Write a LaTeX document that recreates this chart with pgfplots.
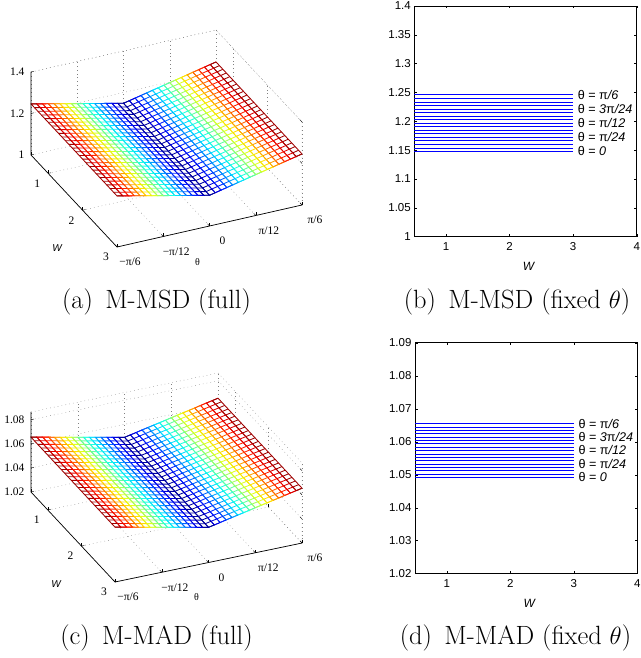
\documentclass[border=0pt]{standalone}
\usepackage{fontspec}
\usepackage{pgfplots}
\usepackage{pgfplotstable}
\pgfplotsset{compat=1.18}
\newfontfamily\helv{Liberation Sans}
\newfontfamily\tms{Liberation Serif}
\pgfplotstableread{
th W z1 z2
-0.5236 0.5 1.2461 1.0655
-0.5236 3 1.2461 1.0655
-0.4909 0.5 1.2399 1.0645
-0.4909 3 1.2399 1.0645
-0.4581 0.5 1.2338 1.0635
-0.4581 3 1.2338 1.0635
-0.4254 0.5 1.2277 1.0625
-0.4254 3 1.2277 1.0625
-0.3927 0.5 1.2216 1.0614
-0.3927 3 1.2216 1.0614
-0.3600 0.5 1.2154 1.0604
-0.3600 3 1.2154 1.0604
-0.3272 0.5 1.2093 1.0594
-0.3272 3 1.2093 1.0594
-0.2945 0.5 1.2032 1.0584
-0.2945 3 1.2032 1.0584
-0.2618 0.5 1.1970 1.0574
-0.2618 3 1.1970 1.0574
-0.2291 0.5 1.1909 1.0563
-0.2291 3 1.1909 1.0563
-0.1963 0.5 1.1848 1.0553
-0.1963 3 1.1848 1.0553
-0.1636 0.5 1.1787 1.0543
-0.1636 3 1.1787 1.0543
-0.1309 0.5 1.1725 1.0533
-0.1309 3 1.1725 1.0533
-0.0982 0.5 1.1664 1.0523
-0.0982 3 1.1664 1.0523
-0.0654 0.5 1.1603 1.0512
-0.0654 3 1.1603 1.0512
-0.0327 0.5 1.1541 1.0502
-0.0327 3 1.1541 1.0502
0 0.5 1.1480 1.0492
0 3 1.1480 1.0492
0.0327 0.5 1.1541 1.0502
0.0327 3 1.1541 1.0502
0.0654 0.5 1.1603 1.0512
0.0654 3 1.1603 1.0512
0.0982 0.5 1.1664 1.0523
0.0982 3 1.1664 1.0523
0.1309 0.5 1.1725 1.0533
0.1309 3 1.1725 1.0533
0.1636 0.5 1.1787 1.0543
0.1636 3 1.1787 1.0543
0.1963 0.5 1.1848 1.0553
0.1963 3 1.1848 1.0553
0.2291 0.5 1.1909 1.0563
0.2291 3 1.1909 1.0563
0.2618 0.5 1.1970 1.0574
0.2618 3 1.1970 1.0574
0.2945 0.5 1.2032 1.0584
0.2945 3 1.2032 1.0584
0.3272 0.5 1.2093 1.0594
0.3272 3 1.2093 1.0594
0.3600 0.5 1.2154 1.0604
0.3600 3 1.2154 1.0604
0.3927 0.5 1.2216 1.0614
0.3927 3 1.2216 1.0614
0.4254 0.5 1.2277 1.0625
0.4254 3 1.2277 1.0625
0.4581 0.5 1.2338 1.0635
0.4581 3 1.2338 1.0635
0.4909 0.5 1.2399 1.0645
0.4909 3 1.2399 1.0645
0.5236 0.5 1.2461 1.0655
0.5236 3 1.2461 1.0655
}\crossdata
\pgfplotsset{
  threed/.style={
    anchor=south west, clip=false,
    xmin=-0.5236, xmax=0.5236, ymin=0.5, ymax=3, y dir=reverse,
    xtick={-0.5236,-0.2618,0,0.2618,0.5236},
    xticklabels={−π/6,−π/12,0,π/12,π/6},
    ytick={1,2,3}, yticklabels={1,2,3},
    grid=major,
    grid style={black!50, line width=0.4pt, dash pattern=on 0.7pt off 3.2pt},
    axis line style={draw=none},
    tick style={black, line width=0.4pt},
    tick pos=left,
    major tick length=3pt,
    tick label style={font=\tms\fontsize{11.5}{13}\selectfont},
    colormap/jet,
    x tick label style={anchor=center, xshift=13pt, yshift=-15pt},
    y tick label style={anchor=center, xshift=-11pt, yshift=-10pt},
    z tick label style={anchor=east, xshift=-3pt},
    xlabel={\tms θ}, ylabel={\helv\itshape W},
  },
  flat/.style={
    anchor=south west, scale only axis, width=222.4pt, height=230.7pt,
    xmin=0.5, xmax=4, xtick={1,2,3,4}, xticklabels={1,2,3,4},
    tick align=inside, major tick length=2.5pt,
    axis line style={black, line width=0.7pt},
    tick style={black, line width=0.4pt},
    tick label style={font=\helv\fontsize{11.5}{13}\selectfont},
    x tick label style={yshift=-2pt},
    xlabel={\helv\itshape W},
    xlabel style={font=\fontsize{12}{13}\selectfont, yshift=-5pt, xshift=3pt},
    clip=false,
  },
}
\newcommand{\thlabel}[2]{\node[anchor=west, inner sep=0pt, font=\helv\fontsize{12.6}{14}\selectfont] at (axis cs:3.07,#1) {#2};}
\begin{document}
\begin{tikzpicture}[x=1pt,y=1pt]
\path[use as bounding box] (0,0) rectangle (640,658);
% (a)
\begin{axis}[threed, at={(31pt,411pt)},
  x={(176.66pt,40.1pt)}, y={(-34.4pt,36.8pt)}, z={(0pt,207.5pt)},
  zmin=1, zmax=1.4, ztick={1,1.2,1.4}, zticklabels={1,1.2,1.4},
  point meta min=1.148, point meta max=1.2461,
  every axis x label/.style={at={(axis cs:0,3,1)}, anchor=center, xshift=-12pt, yshift=-36pt},
  every axis y label/.style={at={(axis cs:-0.5236,1.75,1)}, anchor=center, xshift=-17pt, yshift=-47pt},
]
\addplot3[fill=white, draw=none] coordinates {(-0.5236,0.5,1.2461) (0,0.5,1.148) (0.5236,0.5,1.2461) (0.5236,3,1.2461) (0,3,1.148) (-0.5236,3,1.2461)};
\addplot3[mesh, line width=0.85pt, mesh/rows=33, mesh/cols=2] table[x=th, y=W, z=z1] {\crossdata};
\pgfplotsinvokeforeach{0.5,0.6,0.7,0.8,0.9,1.0,1.1,1.2,1.3,1.4,1.5,1.6,1.7,1.8,1.9,2.0,2.1,2.2,2.3,2.4,2.5,2.6,2.7,2.8,2.9,3.0}{
  \addplot3[mesh, line width=0.85pt, mesh/rows=33, mesh/cols=2] table[x=th, y expr=#1, z=z1] {\crossdata};
}
\addplot3[black!50, line width=0.4pt, dash pattern=on 0.7pt off 3.2pt] coordinates {(-0.5236,0.5,1.4) (0.5236,0.5,1.4) (0.5236,3,1.4) (0.5236,3,1)};
\addplot3[black, line width=0.7pt] coordinates {(-0.5236,0.5,1.4) (-0.5236,0.5,1) (-0.5236,3,1) (0.5236,3,1)};
\end{axis}
% (c)
\begin{axis}[threed, at={(31pt,76pt)},
  x={(178.6pt,37.2pt)}, y={(-33.6pt,36pt)}, z={(0pt,1205pt)},
  zmin=1.02, zmax=1.0864, ztick={1.02,1.04,1.06,1.08}, zticklabels={1.02,1.04,1.06,1.08},
  point meta min=1.0492, point meta max=1.0655,
  every axis x label/.style={at={(axis cs:0,3,1.02)}, anchor=center, xshift=-12pt, yshift=-35pt},
  every axis y label/.style={at={(axis cs:-0.5236,1.75,1.02)}, anchor=center, xshift=-17pt, yshift=-47pt},
]
\addplot3[fill=white, draw=none] coordinates {(-0.5236,0.5,1.0655) (0,0.5,1.0492) (0.5236,0.5,1.0655) (0.5236,3,1.0655) (0,3,1.0492) (-0.5236,3,1.0655)};
\addplot3[mesh, line width=0.85pt, mesh/rows=33, mesh/cols=2] table[x=th, y=W, z=z2] {\crossdata};
\pgfplotsinvokeforeach{0.5,0.6,0.7,0.8,0.9,1.0,1.1,1.2,1.3,1.4,1.5,1.6,1.7,1.8,1.9,2.0,2.1,2.2,2.3,2.4,2.5,2.6,2.7,2.8,2.9,3.0}{
  \addplot3[mesh, line width=0.85pt, mesh/rows=33, mesh/cols=2] table[x=th, y expr=#1, z=z2] {\crossdata};
}
\addplot3[black!50, line width=0.4pt, dash pattern=on 0.7pt off 3.2pt] coordinates {(-0.5236,0.5,1.0864) (0.5236,0.5,1.0864) (0.5236,3,1.0864) (0.5236,3,1.02)};
\addplot3[black, line width=0.7pt] coordinates {(-0.5236,0.5,1.0864) (-0.5236,0.5,1.02) (-0.5236,3,1.02) (0.5236,3,1.02)};
\end{axis}
% (b)
\begin{axis}[flat, at={(414.3pt,421.3pt)}, ymin=1, ymax=1.4,
  ytick={1,1.05,1.1,1.15,1.2,1.25,1.3,1.35,1.4},
  yticklabels={1,1.05,1.1,1.15,1.2,1.25,1.3,1.35,1.4}]
\foreach \v in {1.148,1.1541,1.1603,1.1664,1.1725,1.1787,1.1848,1.1909,1.197,1.2032,1.2093,1.2154,1.2216,1.2277,1.2338,1.2399,1.2461}{
  \addplot[blue, line width=0.6pt, forget plot] coordinates {(0.5,\v) (3,\v)};
}
\thlabel{1.246}{θ = π\textit{/6}}
\thlabel{1.222}{θ = \textit{3}π\textit{/24}}
\thlabel{1.197}{θ = π\textit{/12}}
\thlabel{1.173}{θ = π\textit{/24}}
\thlabel{1.148}{θ = \textit{0}}
\end{axis}
% (d)
\begin{axis}[flat, at={(415pt,84.3pt)}, ymin=1.02, ymax=1.09, height=231pt,
  ytick={1.02,1.03,1.04,1.05,1.06,1.07,1.08,1.09},
  yticklabels={1.02,1.03,1.04,1.05,1.06,1.07,1.08,1.09}]
\foreach \v in {1.0492,1.0502,1.0512,1.0523,1.0533,1.0543,1.0553,1.0563,1.0574,1.0584,1.0594,1.0604,1.0614,1.0625,1.0635,1.0645,1.0655}{
  \addplot[blue, line width=0.6pt, forget plot] coordinates {(0.5,\v) (3,\v)};
}
\thlabel{1.0655}{θ = π\textit{/6}}
\thlabel{1.0614}{θ = \textit{3}π\textit{/24}}
\thlabel{1.0574}{θ = π\textit{/12}}
\thlabel{1.0533}{θ = π\textit{/24}}
\thlabel{1.0492}{θ = \textit{0}}
\end{axis}
\node[font=\fontsize{26.4}{30}\selectfont] at (156.5,356) {(a)\, M-MSD (full)};
\node[font=\fontsize{26.4}{30}\selectfont] at (517,356) {(b)\, M-MSD (fixed $\theta$)};
\node[font=\fontsize{26.4}{30}\selectfont] at (156.5,20) {(c)\, M-MAD (full)};
\node[font=\fontsize{26.4}{30}\selectfont] at (515.5,20) {(d)\, M-MAD (fixed $\theta$)};
\end{tikzpicture}
\end{document}
